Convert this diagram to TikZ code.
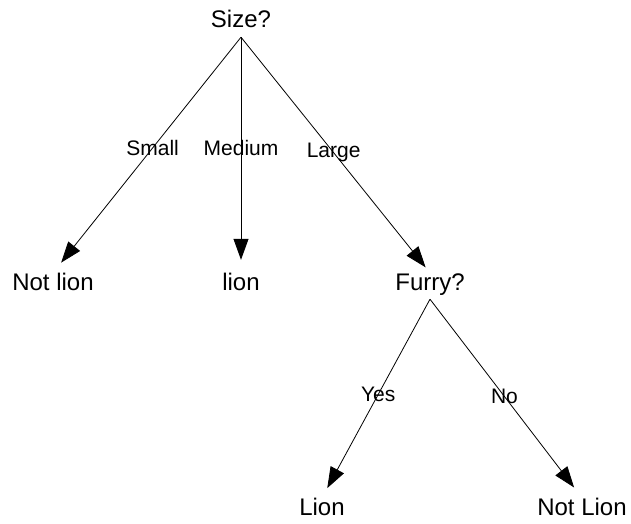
\documentclass[tikz,border=0pt]{standalone}
\usepackage{fontspec}
\setmainfont{Liberation Sans}
\usetikzlibrary{arrows.meta}
\begin{document}
\begin{tikzpicture}[x=1pt,y=-1pt,
  lbl/.style={inner sep=0pt, anchor=base, text height=17pt, text depth=5pt, font=\fontsize{24}{28}\selectfont},
  edgelbl/.style={inner sep=0pt, font=\fontsize{21}{25}\selectfont},
  arr/.style={draw, line width=0.8pt, -{Triangle[length=21pt,width=15pt]}}]
\useasboundingbox (0,0) rectangle (631,523);
\node[lbl] (size) at (241,27) {Size?};
\node[lbl] (notlion) at (53,290) {Not lion};
\node[lbl] (lion) at (241,290) {lion};
\node[lbl] (furry) at (430,290) {Furry?};
\node[lbl] (lion2) at (322,515) {Lion};
\node[lbl] (notlion2) at (582,515) {Not Lion};
\coordinate (sizeout) at ([yshift=-5pt]size.south);
\coordinate (furryout) at ([yshift=-4pt]furry.south);
\draw[arr, shorten >=13pt] (sizeout) -- (notlion.north) node[edgelbl, pos=0.47] {Small};
\draw[arr, shorten >=13pt] (sizeout) -- (lion.north) node[edgelbl, pos=0.47] {Medium};
\draw[arr, shorten >=7pt] (sizeout) -- (furry.north) node[edgelbl, pos=0.49] {Large};
\draw[arr, shorten >=11pt] (furryout) -- (lion2.north) node[edgelbl, pos=0.48] {Yes};
\draw[arr, shorten >=13pt] (furryout) -- (notlion2.north) node[edgelbl, pos=0.49] {No};
\end{tikzpicture}
\end{document}
